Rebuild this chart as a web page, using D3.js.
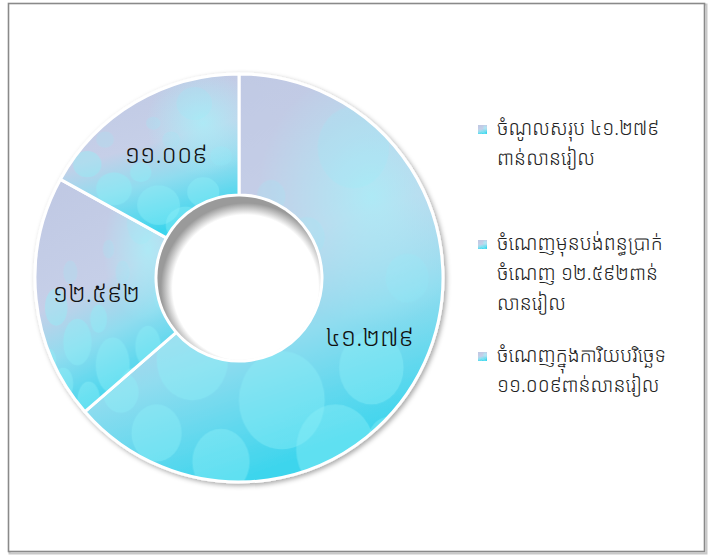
<!DOCTYPE html>
<html>
<head>
<meta charset="utf-8">
<script src="https://cdn.jsdelivr.net/npm/d3@7"></script>
<style>
  html, body { margin: 0; padding: 0; background: #fff; }
  svg { display: block; }
  text { font-family: "Khmer OS", "Noto Sans Khmer", "Noto Sans", "DejaVu Sans", sans-serif; font-weight: 300; }
</style>
</head>
<body>
<svg id="chart" width="713" height="556"></svg>
<script>
// ---- data ----
const categories = ["ចំណូលសរុប", "ចំណេញមុនបង់ពន្ធប្រាក់ចំណេញ", "ចំណេញក្នុងការិយបរិច្ឆេទ"];
const values = [41.279, 12.592, 11.009];
const valueLabels = ["៤១.២៧៩", "១២.៥៩២", "១១.០០៩"];
const legendLines = [
  ["ចំណូលសរុប ៤១.២៧៩", "ពាន់លានរៀល"],
  ["ចំណេញមុនបង់ពន្ធប្រាក់", "ចំណេញ ១២.៥៩២ពាន់", "លានរៀល"],
  ["ចំណេញក្នុងការិយបរិច្ឆេទ", "១១.០០៩ពាន់លានរៀល"]
];
// decorative bokeh texture (in slice bounding-box units)
const bokeh = [
  [0.15,0.55,0.08],[0.30,0.70,0.10],[0.55,0.80,0.12],[0.80,0.72,0.09],[0.70,0.92,0.11],
  [0.20,0.88,0.07],[0.45,0.60,0.06],[0.90,0.50,0.06],[0.62,0.40,0.05],[0.10,0.78,0.05],
  [0.38,0.95,0.08],[0.85,0.90,0.06],[0.52,0.30,0.04],[0.25,0.40,0.05],[0.75,0.18,0.10]
];

const W = 713, H = 556;
const svg = d3.select("#chart");
const defs = svg.append("defs");

// frame
svg.append("rect").attr("x", 9.5).attr("y", 4.5).attr("width", 697).attr("height", 549)
  .attr("fill", "none").attr("stroke", "#c8c8c8").attr("stroke-width", 2);
svg.append("rect").attr("x", 8.5).attr("y", 3.5).attr("width", 696).attr("height", 548)
  .attr("fill", "#fff").attr("stroke", "#8a8a8a").attr("stroke-width", 1.6);

// slice fill: gradient + bokeh pattern stretched to each slice
const grad = defs.append("linearGradient").attr("id", "bg")
  .attr("x1", 0.1).attr("y1", 0).attr("x2", 0.4).attr("y2", 1);
[[0, "#bfc8e3"], [0.5, "#c6cfe8"], [0.72, "#90dcef"], [1, "#3ed5ed"]]
  .forEach(([o, c]) => grad.append("stop").attr("offset", o).attr("stop-color", c));
const glow = defs.append("radialGradient").attr("id", "glow")
  .attr("cx", 0.8).attr("cy", 0.3).attr("r", 0.32);
glow.append("stop").attr("offset", 0).attr("stop-color", "#a6f2fa").attr("stop-opacity", 0.75);
glow.append("stop").attr("offset", 1).attr("stop-color", "#a6f2fa").attr("stop-opacity", 0);

const pat = defs.append("pattern").attr("id", "tex")
  .attr("patternUnits", "objectBoundingBox").attr("patternContentUnits", "objectBoundingBox")
  .attr("width", 1).attr("height", 1);
pat.append("rect").attr("width", 1).attr("height", 1).attr("fill", "url(#bg)");
pat.append("rect").attr("width", 1).attr("height", 1).attr("fill", "url(#glow)");
pat.selectAll("circle").data(bokeh).join("circle")
  .attr("cx", d => d[0]).attr("cy", d => d[1]).attr("r", d => d[2])
  .attr("fill", "#8ff0f8").attr("fill-opacity", d => d[1] > 0.5 ? 0.4 : 0.18);

// shadows
const sh = defs.append("filter").attr("id", "shadow").attr("x", "-10%").attr("y", "-10%").attr("width", "120%").attr("height", "120%");
sh.append("feDropShadow").attr("dx", 2).attr("dy", 2).attr("stdDeviation", 2.5)
  .attr("flood-color", "#000").attr("flood-opacity", 0.35);
const inner = defs.append("radialGradient").attr("id", "innerShade")
  .attr("cx", 0.54).attr("cy", 0.56).attr("r", 0.52);
inner.append("stop").attr("offset", 0.86).attr("stop-color", "#fff");
inner.append("stop").attr("offset", 1).attr("stop-color", "#9a9a9a");

const cx = 239, cy = 278, R = 204, r0 = 83;
const g = svg.append("g").attr("transform", `translate(${cx},${cy})`);

const pie = d3.pie().sort(null).value(d => d)(values);
const arc = d3.arc().innerRadius(r0).outerRadius(R);

g.append("g").attr("filter", "url(#shadow)")
  .selectAll("path").data(pie).join("path")
  .attr("d", arc)
  .attr("fill", "url(#tex)")
  .attr("stroke", "#fff").attr("stroke-width", 3).attr("stroke-linejoin", "round");

// inner hole shading
g.append("circle").attr("r", r0 - 1.5).attr("fill", "url(#innerShade)");

// value labels
g.selectAll("text.val").data(pie).join("text").attr("class", "val")
  .attr("transform", d => `translate(${arc.centroid(d)})`)
  .attr("text-anchor", "middle").attr("dy", "0.35em")
  .attr("font-size", 25).attr("fill", "#111")
  .text((d, i) => valueLabels[i]);

// legend
const legY = [135, 250, 362];
const lg = svg.append("g");
legendLines.forEach((lines, i) => {
  lg.append("rect").attr("x", 478).attr("y", legY[i] - 10).attr("width", 9).attr("height", 9)
    .attr("fill", "url(#tex)");
  lines.forEach((t, j) => {
    lg.append("text").attr("x", 497).attr("y", legY[i] + j * 30)
      .attr("font-size", 19.5).attr("fill", "#222").text(t);
  });
});
</script>
</body>
</html>
